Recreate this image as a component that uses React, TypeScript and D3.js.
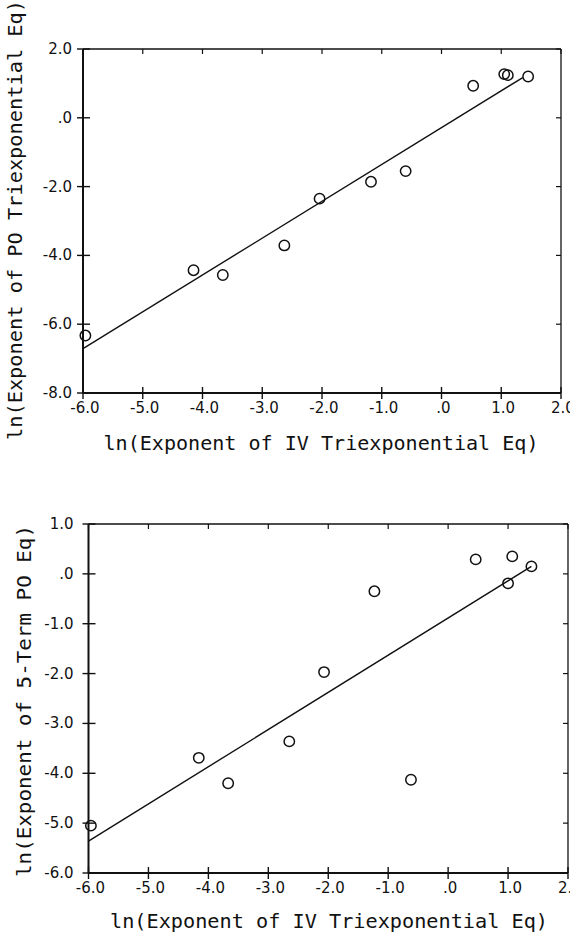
import React from "react";
import * as d3 from "d3";

// ---- data ----
const xTickValues = [-6, -5, -4, -3, -2, -1, 0, 1, 2];
const xTickLabels = ["-6.0", "-5.0", "-4.0", "-3.0", "-2.0", "-1.0", ".0", "1.0", "2.0"];

const topYTickValues = [2, 0, -2, -4, -6, -8];
const topYTickLabels = ["2.0", ".0", "-2.0", "-4.0", "-6.0", "-8.0"];

const bottomYTickValues = [1, 0, -1, -2, -3, -4, -5, -6];
const bottomYTickLabels = ["1.0", ".0", "-1.0", "-2.0", "-3.0", "-4.0", "-5.0", "-6.0"];

// top panel: ln(exponent IV tri) vs ln(exponent PO tri)
const topIvX = [-5.96, -4.15, -3.66, -2.63, -2.04, -1.18, -0.6, 0.53, 1.05, 1.11, 1.45];
const topPoY = [-6.33, -4.43, -4.57, -3.71, -2.35, -1.86, -1.55, 0.93, 1.27, 1.24, 1.2];
const topFitX = [-6.0, 1.36];
const topFitY = [-6.71, 1.17];

// bottom panel: ln(exponent IV tri) vs ln(exponent 5-term PO)
const bottomIvX = [-5.96, -4.16, -3.67, -2.65, -2.07, -1.23, -0.62, 0.46, 1.07, 1.0, 1.39];
const bottomPoY = [-5.05, -3.69, -4.2, -3.36, -1.97, -0.35, -4.13, 0.29, 0.35, -0.19, 0.15];
const bottomFitX = [-6.0, 1.39];
const bottomFitY = [-5.36, 0.15];

const xTitle = "ln(Exponent of IV Triexponential Eq)";
const topYTitle = "ln(Exponent of PO Triexponential Eq)";
const bottomYTitle = "ln(Exponent of 5-Term PO Eq)";

const INK = "#111";
const TICK_FONT = "'DejaVu Sans', sans-serif";
const TITLE_FONT = "'DejaVu Sans Mono', monospace";

type PanelProps = {
  left: number;
  right: number;
  top: number;
  bottom: number;
  yDomain: [number, number];
  yTicks: number[];
  yLabels: string[];
  xs: number[];
  ys: number[];
  fitX: number[];
  fitY: number[];
  yTitle: string;
  yTitleX: number;
  yTitleCenter: number;
  yTitleLen: number;
  xLabelBaseline: number;
  xTitleBaseline: number;
  xTitleCenter: number;
  xTitleLen: number;
  yLabelGap: number;
};

function Panel(p: PanelProps) {
  const x = d3.scaleLinear().domain([-6, 2]).range([p.left, p.right]);
  const y = d3.scaleLinear().domain(p.yDomain).range([p.bottom, p.top]);
  const line = d3
    .line<number>()
    .x((_, i) => x(p.fitX[i]))
    .y((_, i) => y(p.fitY[i]));
  return (
    <g>
      {/* frame: top and right thinner */}
      <line x1={p.left} x2={p.right} y1={p.top} y2={p.top} stroke={INK} strokeWidth={1.3} />
      <line x1={p.right} x2={p.right} y1={p.top} y2={p.bottom} stroke={INK} strokeWidth={1.3} />
      <line x1={p.left} x2={p.left} y1={p.top} y2={p.bottom} stroke={INK} strokeWidth={2} />
      <line x1={p.left} x2={p.right} y1={p.bottom} y2={p.bottom} stroke={INK} strokeWidth={2} />

      {/* x ticks */}
      {xTickValues.map((v, i) => (
        <g key={"xt" + i}>
          <line x1={x(v)} x2={x(v)} y1={p.bottom - 6} y2={p.bottom + 6} stroke={INK} strokeWidth={1.4} />
          <line x1={x(v)} x2={x(v)} y1={p.top} y2={p.top + 5} stroke={INK} strokeWidth={1.2} />
          <text
            x={x(v) + 2}
            y={p.xLabelBaseline}
            textAnchor="middle"
            fontFamily={TICK_FONT}
            fontSize={15}
            fill={INK}
          >
            {xTickLabels[i]}
          </text>
        </g>
      ))}

      {/* y ticks */}
      {p.yTicks.map((v, i) => (
        <g key={"yt" + i}>
          <line x1={p.left - 6} x2={p.left + 7} y1={y(v)} y2={y(v)} stroke={INK} strokeWidth={1.4} />
          <line x1={p.right - 5} x2={p.right} y1={y(v)} y2={y(v)} stroke={INK} strokeWidth={1.2} />
          <text
            x={p.left - p.yLabelGap}
            y={y(v) + 5}
            textAnchor="end"
            fontFamily={TICK_FONT}
            fontSize={15}
            fill={INK}
          >
            {p.yLabels[i]}
          </text>
        </g>
      ))}

      {/* regression line */}
      <path d={line(p.fitX) || ""} fill="none" stroke={INK} strokeWidth={1.4} />

      {/* points */}
      {p.xs.map((v, i) => (
        <circle key={"pt" + i} cx={x(v)} cy={y(p.ys[i])} r={5.2} fill="none" stroke={INK} strokeWidth={1.5} />
      ))}

      {/* titles */}
      <text
        x={p.xTitleCenter}
        y={p.xTitleBaseline}
        textAnchor="middle"
        fontFamily={TITLE_FONT}
        fontSize={20}
        textLength={p.xTitleLen}
        lengthAdjust="spacingAndGlyphs"
        fill={INK}
      >
        {xTitle}
      </text>
      <text
        transform={`translate(${p.yTitleX},${p.yTitleCenter}) rotate(-90)`}
        textAnchor="middle"
        fontFamily={TITLE_FONT}
        fontSize={20}
        textLength={p.yTitleLen}
        lengthAdjust="spacingAndGlyphs"
        fill={INK}
      >
        {p.yTitle}
      </text>
    </g>
  );
}

export default function App() {
  return (
    <svg
      width={570}
      height={940}
      viewBox="0 0 570 940"
      style={{ position: "absolute", left: 0, top: 0, background: "#fff" }}
    >
      <rect x={0} y={0} width={570} height={940} fill="#fff" />
      <Panel
        left={83}
        right={561}
        top={49}
        bottom={393}
        yDomain={[-8, 2]}
        yTicks={topYTickValues}
        yLabels={topYTickLabels}
        xs={topIvX}
        ys={topPoY}
        fitX={topFitX}
        fitY={topFitY}
        yTitle={topYTitle}
        yTitleX={22}
        yTitleCenter={220}
        yTitleLen={440}
        xLabelBaseline={413}
        xTitleBaseline={450}
        xTitleCenter={321}
        xTitleLen={435}
        yLabelGap={11}
      />
      <Panel
        left={88.5}
        right={568}
        top={524}
        bottom={873}
        yDomain={[-6, 1]}
        yTicks={bottomYTickValues}
        yLabels={bottomYTickLabels}
        xs={bottomIvX}
        ys={bottomPoY}
        fitX={bottomFitX}
        fitY={bottomFitY}
        yTitle={bottomYTitle}
        yTitleX={31}
        yTitleCenter={701}
        yTitleLen={352}
        xLabelBaseline={893}
        xTitleBaseline={928}
        xTitleCenter={329}
        xTitleLen={438}
        yLabelGap={15}
      />
    </svg>
  );
}
